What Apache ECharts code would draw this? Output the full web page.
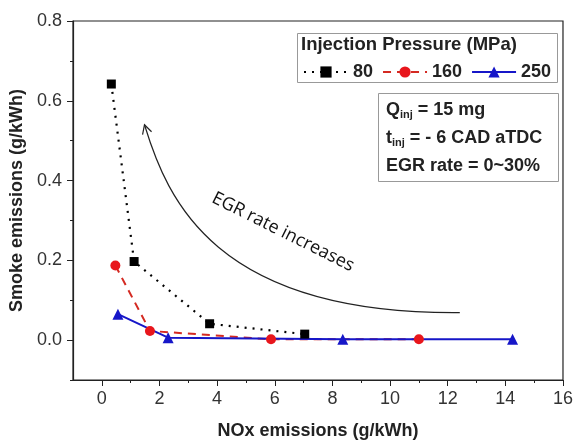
<!DOCTYPE html>
<html>
<head>
<meta charset="utf-8">
<script src="https://cdn.jsdelivr.net/npm/echarts@6/dist/echarts.min.js"></script>
<style>
  html, body { margin: 0; padding: 0; background: #fff; }
  #chart { width: 576px; height: 445px; }
</style>
</head>
<body>
<div id="chart"></div>
<script>
// data: [NOx, smoke]
const p80 = [[0.33, 0.642], [1.12, 0.197], [3.74, 0.041], [7.04, 0.015]]
const p160 = [[0.47, 0.187], [1.67, 0.023], [5.87, 0.002], [11.0, 0.002]]
const p250 = [[0.56, 0.065], [2.3, 0.006], [8.36, 0.002], [14.25, 0.002]]
const seriesNames = ['80', '160', '250']
const xLabels = [0, 2, 4, 6, 8, 10, 12, 14, 16]
const xMinor = [1, 3, 5, 7, 9, 11, 13, 15]
const yLabels = [0, 0.2, 0.4, 0.6, 0.8]
const yMinor = [-0.1, 0.1, 0.3, 0.5, 0.7]
// "EGR rate increases" arrow: tip, two control points, tail (data coords)
const arrowCurve = [[1.48, 0.540], [2.27, 0.354], [3.89, 0.064], [12.42, 0.069]]

const font = 'Liberation Sans, Arial, sans-serif'
const chart = echarts.init(document.getElementById('chart'))

const baseX = { type: 'value', min: -1, max: 16, interval: 1, splitLine: { show: false } }
const baseY = { type: 'value', min: -0.1, max: 0.8, interval: 0.1, splitLine: { show: false } }

const option = {
  animation: false,
  backgroundColor: '#fff',
  grid: { left: 73, right: 9, top: 21, bottom: 62, show: true, borderColor: '#222', borderWidth: 1.2 },
  xAxis: [
    Object.assign({}, baseX, {
      name: 'NOx emissions (g/kWh)', nameLocation: 'middle', nameGap: 42,
      nameTextStyle: { fontFamily: font, fontWeight: 'bold', fontSize: 18, color: '#222' },
      axisLine: { onZero: false, lineStyle: { color: '#222', width: 1.2 } },
      axisTick: { customValues: xLabels, length: 6, lineStyle: { color: '#222' } },
      axisLabel: { customValues: xLabels, margin: 10, fontFamily: font, fontSize: 18, color: '#333' }
    }),
    Object.assign({}, baseX, {
      position: 'bottom', axisLine: { show: false, onZero: false }, axisLabel: { show: false },
      axisTick: { customValues: xMinor, length: 3, lineStyle: { color: '#222' } }
    })
  ],
  yAxis: [
    Object.assign({}, baseY, {
      name: 'Smoke emissions (g/kWh)', nameLocation: 'middle', nameGap: 46,
      nameTextStyle: { fontFamily: font, fontWeight: 'bold', fontSize: 18, color: '#222' },
      axisLine: { onZero: false, lineStyle: { color: '#222', width: 1.2 } },
      axisTick: { customValues: yLabels, length: 6, lineStyle: { color: '#222' } },
      axisLabel: { customValues: yLabels, margin: 11, fontFamily: font, fontSize: 18, color: '#333',
        formatter: v => v.toFixed(1) }
    }),
    Object.assign({}, baseY, {
      position: 'left', axisLine: { show: false, onZero: false }, axisLabel: { show: false },
      axisTick: { customValues: yMinor, length: 3, lineStyle: { color: '#222' } }
    })
  ],
  legend: {
    data: seriesNames, left: 298, top: 58, itemWidth: 44, itemHeight: 14, itemGap: 9,
    textStyle: { fontFamily: font, fontWeight: 'bold', fontSize: 18, color: '#222' }
  },
  series: [
    { name: seriesNames[0], type: 'line', data: p80, symbol: 'rect', symbolSize: 9,
      itemStyle: { color: '#000' }, lineStyle: { color: '#000', width: 2.2, type: [2, 6] } },
    { name: seriesNames[1], type: 'line', data: p160, symbol: 'circle', symbolSize: 10,
      itemStyle: { color: '#e8161c' }, lineStyle: { color: '#d42a22', width: 2, type: [8, 6] } },
    { name: seriesNames[2], type: 'line', data: p250, symbol: 'triangle', symbolSize: 11,
      itemStyle: { color: '#1616c8' }, lineStyle: { color: '#1616c8', width: 2 } }
  ],
  graphic: [
    { type: 'rect', left: 295, top: 31, shape: { width: 260, height: 49 },
      style: { fill: 'none', stroke: '#999', lineWidth: 1 }, z: 0 },
    { type: 'text', left: 301, top: 35,
      style: { text: 'Injection Pressure (MPa)', font: 'bold 18.5px ' + font, fill: '#222' } },
    { type: 'rect', left: 376, top: 91, shape: { width: 180, height: 88 },
      style: { fill: 'none', stroke: '#999', lineWidth: 1 } },
    { type: 'text', left: 386, top: 96,
      style: {
        text: '{m|Q}{s|inj}{m| = 15 mg}\n{m|t}{s|inj}{m| = - 6 CAD aTDC}\n{m|EGR rate = 0~30%}',
        lineHeight: 28,
        rich: {
          m: { font: 'bold 18px ' + font, fill: '#222', lineHeight: 28 },
          s: { font: 'bold 11px ' + font, fill: '#222', padding: [10, 0, 0, 0], lineHeight: 28 }
        }
      } },
    { type: 'text', x: 283, y: 232, rotation: -26.5 * Math.PI / 180,
      style: { text: 'EGR rate increases', font: '18px "Open Sans", sans-serif', fill: '#111',
        textAlign: 'center', textVerticalAlign: 'middle' } }
  ]
}
chart.setOption(option)

// arrow curve placed through the axes
const px = arrowCurve.map(p => chart.convertToPixel({ gridIndex: 0 }, p))
const dx = px[1][0] - px[0][0], dy = px[1][1] - px[0][1]
const len = Math.sqrt(dx * dx + dy * dy)
const ux = dx / len, uy = dy / len
const wing = (a) => [px[0][0] + 10 * (ux * Math.cos(a) - uy * Math.sin(a)),
                     px[0][1] + 10 * (ux * Math.sin(a) + uy * Math.cos(a))]
const a = 28 * Math.PI / 180
chart.setOption({
  graphic: option.graphic.concat([
    { type: 'bezierCurve', silent: true,
      shape: { x1: px[0][0], y1: px[0][1], cpx1: px[1][0], cpy1: px[1][1],
               cpx2: px[2][0], cpy2: px[2][1], x2: px[3][0], y2: px[3][1] },
      style: { stroke: '#222', lineWidth: 1.2, fill: null } },
    { type: 'polyline', silent: true,
      shape: { points: [wing(a), px[0], wing(-a)] },
      style: { stroke: '#222', lineWidth: 1.2, fill: null } }
  ])
})
</script>
</body>
</html>
